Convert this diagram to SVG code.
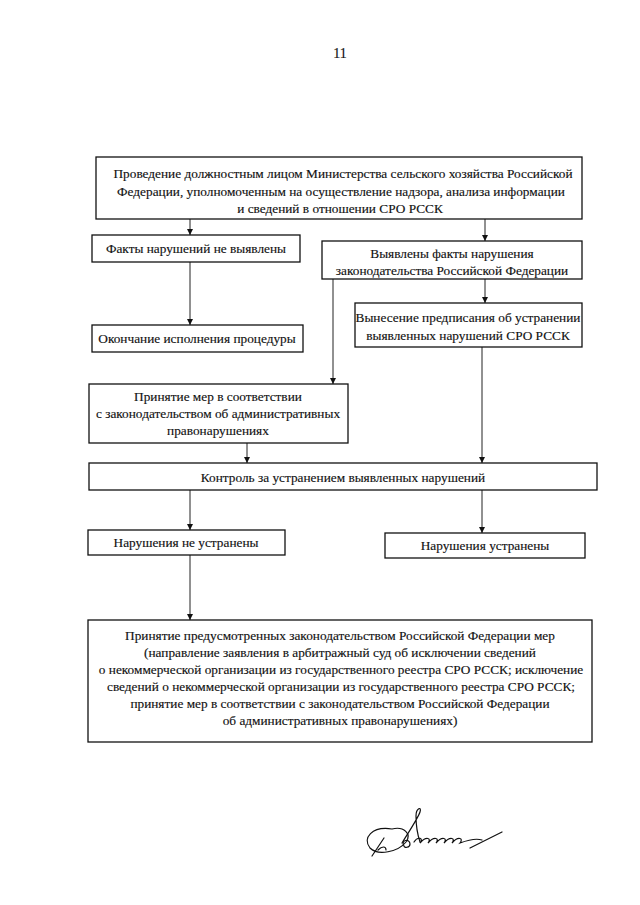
<svg xmlns="http://www.w3.org/2000/svg" width="640" height="905" viewBox="0 0 640 905">
<defs>
<style>
.box{fill:#fff;stroke:#111;stroke-width:1.3}
.t{font-family:"Liberation Serif","Times New Roman",serif;font-size:13.3px;fill:#111;text-anchor:middle;stroke:#111;stroke-width:0.15}
.c{stroke:#222;stroke-width:1;fill:none}
</style>
<marker id="ah" viewBox="0 0 10 10" refX="10" refY="5" markerWidth="6" markerHeight="7" orient="auto" markerUnits="userSpaceOnUse">
<path d="M0,0 L10,5 L0,10 z" fill="#111"/>
</marker>
</defs>
<rect width="640" height="905" fill="#fff"/>
<text class="t" x="340" y="58" style="font-size:14px">11</text>

<g id="connectors">
<line class="c" x1="190" y1="219" x2="190" y2="235" marker-end="url(#ah)"/>
<line class="c" x1="485" y1="219" x2="485" y2="241" marker-end="url(#ah)"/>
<line class="c" x1="190" y1="262" x2="190" y2="325" marker-end="url(#ah)"/>
<line class="c" x1="333" y1="279" x2="333" y2="384" marker-end="url(#ah)"/>
<line class="c" x1="485" y1="279" x2="485" y2="303" marker-end="url(#ah)"/>
<line class="c" x1="482" y1="347" x2="482" y2="463" marker-end="url(#ah)"/>
<line class="c" x1="247" y1="443" x2="247" y2="463" marker-end="url(#ah)"/>
<line class="c" x1="190" y1="490" x2="190" y2="530" marker-end="url(#ah)"/>
<line class="c" x1="482" y1="490" x2="482" y2="533" marker-end="url(#ah)"/>
<line class="c" x1="190" y1="555" x2="190" y2="620" marker-end="url(#ah)"/>
</g>

<g id="n1">
<rect class="box" x="96" y="157" width="486" height="62"/>
<text class="t" x="343" y="178">Проведение должностным лицом Министерства сельского хозяйства Российской</text>
<text class="t" x="341" y="196">Федерации, уполномоченным на осуществление надзора, анализа информации</text>
<text class="t" x="340" y="213">и сведений в отношении СРО РССК</text>
</g>
<g id="n2">
<rect class="box" x="92" y="235" width="208" height="27"/>
<text class="t" x="196" y="253">Факты нарушений не выявлены</text>
</g>
<g id="n3">
<rect class="box" x="322" y="241" width="260" height="38"/>
<text class="t" x="452" y="258">Выявлены факты нарушения</text>
<text class="t" x="452" y="275">законодательства Российской Федерации</text>
</g>
<g id="n4">
<rect class="box" x="92" y="325" width="211" height="27"/>
<text class="t" x="197" y="343">Окончание исполнения процедуры</text>
</g>
<g id="n5">
<rect class="box" x="355" y="303" width="227" height="44"/>
<text class="t" x="468" y="322">Вынесение предписания об устранении</text>
<text class="t" x="468" y="340">выявленных нарушений СРО РССК</text>
</g>
<g id="n6">
<rect class="box" x="89" y="384" width="259" height="59"/>
<text class="t" x="218" y="401">Принятие мер в соответствии</text>
<text class="t" x="218" y="418">с законодательством об административных</text>
<text class="t" x="218" y="435">правонарушениях</text>
</g>
<g id="n7">
<rect class="box" x="89" y="463" width="508" height="27"/>
<text class="t" x="343" y="482">Контроль за устранением выявленных нарушений</text>
</g>
<g id="n8">
<rect class="box" x="88" y="530" width="197" height="25"/>
<text class="t" x="186" y="547">Нарушения не устранены</text>
</g>
<g id="n9">
<rect class="box" x="385" y="533" width="200" height="25"/>
<text class="t" x="485" y="550">Нарушения устранены</text>
</g>
<g id="n10">
<rect class="box" x="88" y="620" width="504" height="122"/>
<text class="t" x="340" y="640">Принятие предусмотренных законодательством Российской Федерации мер</text>
<text class="t" x="340" y="657">(направление заявления в арбитражный суд об исключении сведений</text>
<text class="t" x="341" y="674">о некоммерческой организации из государственного реестра СРО РССК; исключение</text>
<text class="t" x="341" y="691">сведений о некоммерческой организации из государственного реестра СРО РССК;</text>
<text class="t" x="340" y="708">принятие мер в соответствии с законодательством Российской Федерации</text>
<text class="t" x="340" y="725">об административных правонарушениях)</text>
</g>

<g id="signature" fill="none" stroke="#111" stroke-width="1.2" stroke-linecap="round">
<path d="M392,829 C372,826 362,838 370,848 C378,856 398,852 406,842 C412,834 404,826 392,829"/>
<path d="M372,856 L384,838 M378,850 C382,846 386,846 386,850"/>
<path d="M402,843 C410,830 418,818 420,812 C422,806 416,808 416,816 C416,826 418,836 420,842"/>
<path d="M404,846 C400,840 410,838 410,844 C410,848 404,848 404,846"/>
<path d="M414,842 C418,836 424,838 420,843 C426,836 432,838 428,843 C434,836 440,838 436,843 C442,836 448,838 444,843 C450,836 456,838 452,843 C458,836 464,838 460,843 C468,840 476,838 482,840"/>
<path d="M470,848 L502,832"/>
</g>
</svg>
